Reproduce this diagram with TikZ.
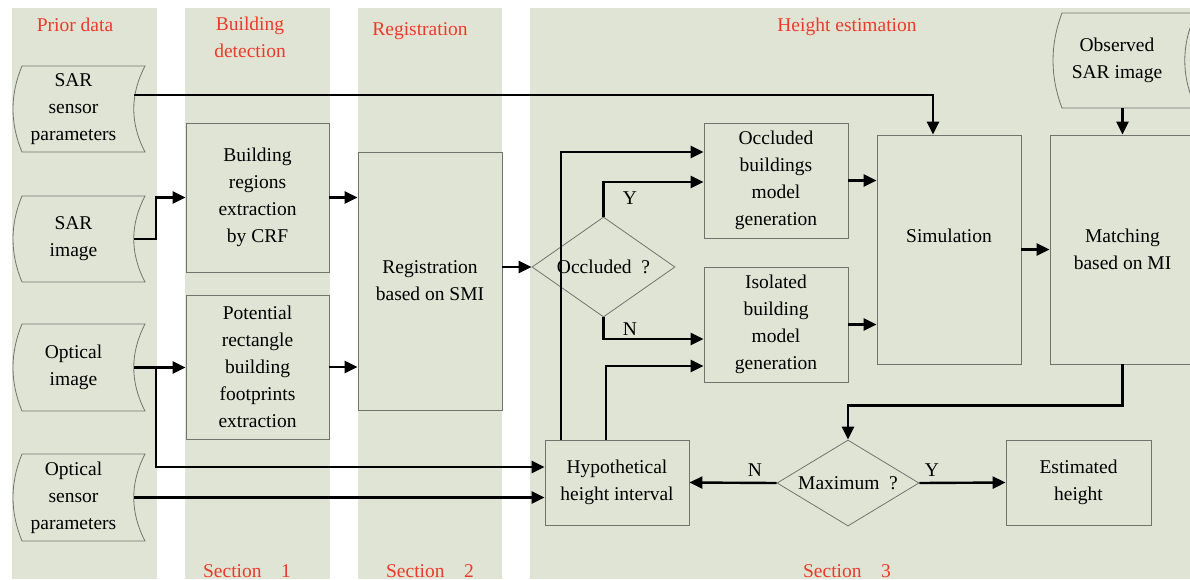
\documentclass[tikz,border=0pt]{standalone}
\usepackage{fontspec}
\setmainfont{Liberation Serif}
\usetikzlibrary{arrows.meta,shapes.geometric}
\definecolor{colbg}{RGB}{224,228,212}
\definecolor{lbl}{RGB}{236,58,42}
\definecolor{edgec}{RGB}{115,115,110}
\newcommand{\datapath}[5]{% xl, xr, top, bottom, third-height
  \draw[datshape] (#1,#3) -- (#2,#3) .. controls +(-15,#5) and +(-15,-#5) .. (#2,#4) -- (#1,#4) .. controls +(-12,-#5) and +(-12,#5) .. (#1,#3) -- cycle;}
\begin{document}
\begin{tikzpicture}[x=1pt,y=-1pt,font=\fontsize{19.5}{27}\selectfont,
  box/.style={draw=edgec,line width=0.8pt,fill=colbg,align=center,inner sep=0pt},
  datnode/.style={align=center,inner sep=0pt},
  datshape/.style={draw=edgec,line width=0.8pt,fill=colbg},
  dia/.style={draw=edgec,line width=0.8pt,fill=colbg,diamond,inner sep=0pt},
  arr/.style={line width=2.4pt,-{Triangle[length=13pt,width=12pt]}},
  lab/.style={text=lbl,align=center},
  yn/.style={inner sep=0pt}]
\fill[white] (0,0) rectangle (1190,579);
\useasboundingbox (0,0) rectangle (1190,579);
% columns
\fill[colbg] (12,8) rectangle (157,579);
\fill[colbg] (185,8) rectangle (330,579);
\fill[colbg] (358,8) rectangle (502,579);
\fill[colbg] (530,8) rectangle (1190,579);
% column labels
\node[lab] (l1) at (75,25) {Prior data};
\node[lab] (l2) at (250,37.5) {Building\\detection};
\node[lab] (l3) at (420,31) {Registration};
\node[lab] (l4) at (847,27) {Height estimation};
\node[lab,anchor=base] (s1) at (247,577) {Section\quad 1};
\node[lab,anchor=base] (s2) at (430,577) {Section\quad 2};
\node[lab,anchor=base] (s3) at (847,577) {Section\quad 3};
% data shapes
\datapath{22}{145}{66}{152}{28.7}
\node[datnode,minimum width=121pt,minimum height=86pt] (sarp) at (73.5,109) {SAR\\sensor\\parameters};
\datapath{22}{145}{196}{282}{28.7}
\node[datnode,minimum width=121pt,minimum height=86pt] (sari) at (73.5,239) {SAR\\image};
\datapath{22}{145}{324}{411}{29}
\node[datnode,minimum width=121pt,minimum height=87pt] (opti) at (73.5,367.5) {Optical\\image};
\datapath{22}{145}{454}{541}{29}
\node[datnode,minimum width=121pt,minimum height=87pt] (opts) at (73.5,497.5) {Optical\\sensor\\parameters};
\datapath{1062}{1196}{13}{108}{31.7}
\node[datnode,minimum width=134pt,minimum height=95pt] (obs) at (1117,60.5) {Observed\\SAR image};
% boxes
\node[box,minimum width=143pt,minimum height=149pt] (b1) at (257.5,197.5) {Building\\regions\\extraction\\by CRF};
\node[box,minimum width=143pt,minimum height=144pt] (b2) at (257.5,367) {Potential\\rectangle\\building\\footprints\\extraction};
\node[box,minimum width=144pt,minimum height=258pt] (reg) at (430,281) {Registration\\based on SMI};
\node[box,minimum width=144pt,minimum height=115pt] (occ) at (776,180.5) {Occluded\\buildings\\model\\generation};
\node[box,minimum width=144pt,minimum height=115pt] (iso) at (776,324.5) {Isolated\\building\\model\\generation};
\node[box,minimum width=144pt,minimum height=229pt] (sim) at (949,249.5) {Simulation\\\mbox{}};
\node[box,minimum width=145pt,minimum height=229pt] (mat) at (1122.5,249.5) {Matching\\based on MI};
\node[box,minimum width=144pt,minimum height=85pt] (hyp) at (617,482.5) {Hypothetical\\height interval};
\node[box,minimum width=145pt,minimum height=85pt] (est) at (1078.5,482.5) {Estimated\\height};
% diamonds
\node[dia,minimum width=143pt,minimum height=100pt] (occq) at (603.5,267) {\makebox[0pt]{Occluded\ \ ?}};
\node[dia,minimum width=142pt,minimum height=86pt] (maxq) at (848,483) {\makebox[0pt]{Maximum\ \ ?}};
% connectors
\draw[arr] ([yshift=14pt]sarp.east) -| ([xshift=-16pt]sim.north);
\draw[arr] (sari.east) -- ++(22,0) |- (b1.west);
\draw[arr] (b1.east) -- (reg.west |- b1.east);
\draw[arr] (opti.east) -- (b2.west |- opti.east);
\draw[arr] ([xshift=22pt]opti.east) |- ([yshift=15.5pt]hyp.west);
\draw[arr] (opts.east) -- (hyp.west |- opts.east);
\draw[arr] (b2.east) -- (reg.west |- b2.east);
\draw[arr] (reg.east |- occq.west) -- (occq.west);
\draw[arr] (occq.north) |- ([yshift=-1.5pt]occ.west);
\draw[arr] (occq.south) |- ([yshift=-14.5pt]iso.west);
\draw[arr] ([xshift=-56pt]hyp.north) |- ([yshift=28.5pt]occ.west);
\draw[arr] ([xshift=-11pt]hyp.north) |- ([yshift=-41.5pt]iso.west);
\draw[arr] (occ.east) -- (sim.west |- occ.east);
\draw[arr] (iso.east) -- (sim.west |- iso.east);
\draw[arr] (sim.east) -- (mat.west);
\draw[arr] (mat.north |- obs.south) -- (mat.north);
\draw[arr] (mat.south) -- ++(0,41) -| (maxq.north);
\draw[arr] (maxq.west) -- (hyp.east);
\draw[arr] (maxq.east) -- (est.west);
% Y / N labels
\node[yn] (y1) at (630,198) {Y};
\node[yn] (n1) at (630,329) {N};
\node[yn] (n2) at (755,470) {N};
\node[yn] (y2) at (932,470) {Y};
\end{tikzpicture}
\end{document}
